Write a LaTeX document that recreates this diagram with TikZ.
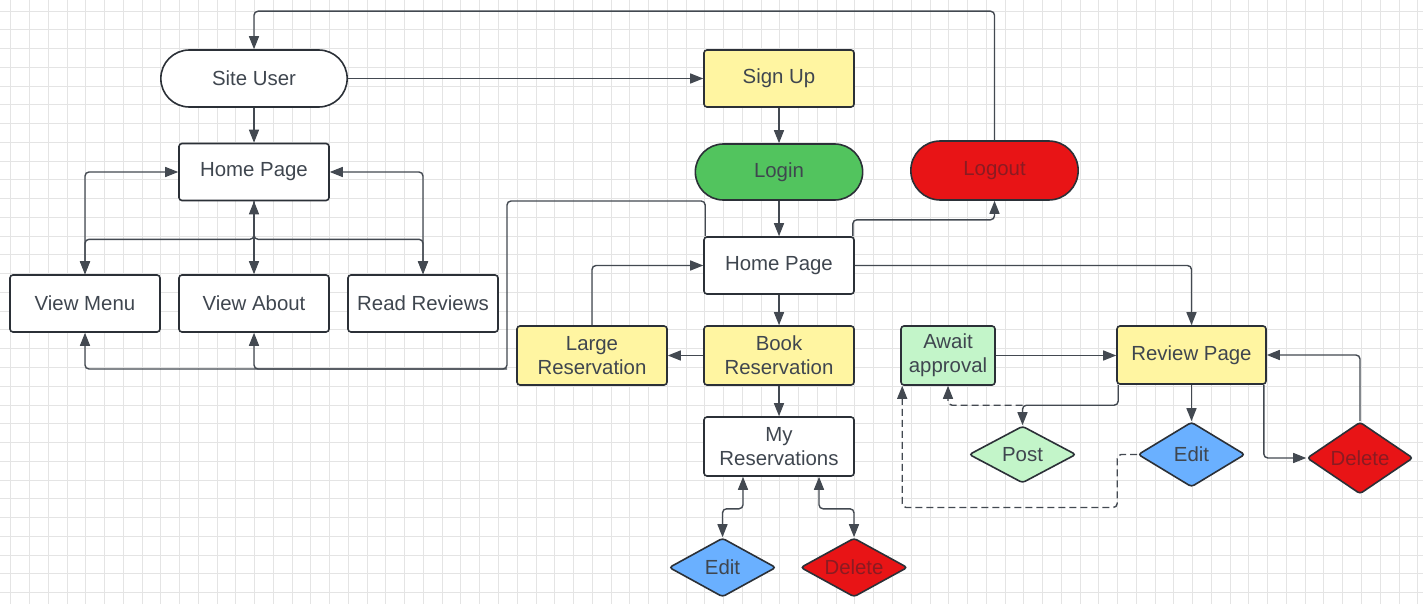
\documentclass[tikz,border=0pt]{standalone}
\usepackage{fontspec}
\setmainfont{Liberation Sans}
\usepackage{xcolor}
\usepackage{tikz}
\usetikzlibrary{shapes,arrows,positioning,calc,arrows.meta}

\definecolor{txt}{HTML}{3F464F}
\definecolor{edge}{HTML}{2B3037}
\definecolor{wire}{HTML}{434951}
\definecolor{yel}{HTML}{FFF5A1}
\definecolor{grn}{HTML}{52C45E}
\definecolor{lgrn}{HTML}{C3F5C9}
\definecolor{blu}{HTML}{6AB0FF}
\definecolor{redd}{HTML}{E81416}
\definecolor{redtxt}{HTML}{8A1B22}
\definecolor{gridc}{HTML}{E4E4E4}

\begin{document}
\begin{tikzpicture}[x=1pt, y=-1pt, >={Triangle[length=13pt,width=10pt]},
    every node/.style={font=\fontsize{20.4}{24}\selectfont, text=txt, align=center},
    box/.style={rectangle, draw=edge, line width=1.6pt, rounded corners=3pt, fill=white, minimum width=150pt, minimum height=57pt, inner sep=2pt},
    pill/.style={rounded rectangle, draw=edge, line width=1.6pt, fill=white, minimum width=193pt, minimum height=57pt},
    choice/.style={diamond, aspect=2, draw=edge, line width=1.6pt, rounded corners=3pt, inner sep=0pt, minimum width=107pt, minimum height=59pt},
    conn/.style={draw=wire, line width=1.4pt, rounded corners=4pt, ->},
    dashconn/.style={conn, dash pattern=on 7pt off 4pt},
    gridline/.style={gridc, line width=0.9pt}]

    \fill[white] (0,0) rectangle (1423,604);
    \useasboundingbox (0,0) rectangle (1423,604);
    \foreach \i in {0,...,75} {
        \draw[gridline] ({10.7+\i*18.76},0) -- ({10.7+\i*18.76},604);
    }
    \foreach \j in {0,...,31} {
        \draw[gridline] (0,{11+\j*18.76}) -- (1423,{11+\j*18.76});
    }

    \node[pill] (siteuser) at (254,78.5) {Site User};
    \node[box] (homeL) at (254,172) {Home Page};
    \node[box] (menu) at (85,303.5) {View Menu};
    \node[box] (about) at (254,303.5) {View About};
    \node[box] (reviews) at (423,303.5) {Read Reviews};

    \node[box, fill=yel] (signup) at (779,78.5) {Sign Up};
    \node[pill, fill=grn, minimum width=174pt, minimum height=56pt] (login) at (779,172) {Login};
    \node[pill, fill=redd, text=redtxt, minimum width=174pt, minimum height=59pt] (logout) at (994.5,170.5) {Logout};
    \node[box] (homeM) at (779,265.5) {Home Page};
    \node[box, fill=yel, minimum height=59pt] (large) at (592,355.5) {Large\\Reservation};
    \node[box, fill=yel, minimum height=59pt] (book) at (779,355.5) {Book\\Reservation};
    \node[box, minimum height=59pt] (myres) at (779,446.5) {My\\Reservations};
    \node[choice, fill=blu] (editA) at (722.5,567.5) {Edit};
    \node[choice, fill=redd, text=redtxt] (deleteA) at (854,567.5) {Delete};

    \node[box, fill=lgrn, minimum width=94pt, minimum height=59pt] (await) at (948,355.5) {Await\\approval};
    \node[box, fill=yel, minimum width=149pt, minimum height=58pt] (review) at (1191.5,355) {Review Page};
    \node[choice, fill=lgrn, minimum height=57pt] (post) at (1022.5,454.5) {Post};
    \node[choice, fill=blu, minimum height=65pt] (editB) at (1191.5,454.5) {Edit};
    \node[choice, fill=redd, text=redtxt, minimum width=106pt, minimum height=72pt] (deleteB) at (1360,458) {Delete};

    \coordinate (jtop) at (507,201);
    \coordinate (jct) at (507,369);

    \draw[conn] (logout.north) |- ([yshift=38pt]siteuser.north) -- (siteuser.north);
    \draw[conn] (siteuser.east) -- (signup.west);
    \draw[conn] (siteuser.south) -- (homeL.north);
    \draw[conn, <->] (homeL.west) -| (menu.north);
    \draw[conn, <->] (homeL.east) -| (reviews.north);
    \draw[conn, <->] (homeL.south) -- (about.north);
    \draw[conn] (homeL.south) -- ([yshift=-38pt]homeL.south) -| (menu.north);
    \draw[conn] (homeL.south) -- ([yshift=-38pt]homeL.south) -| (reviews.north);

    \draw[conn] (signup.south) -- (login.north);
    \draw[conn] (login.south) -- (homeM.north);
    \draw[conn] ([xshift=2pt]homeM.north west) |- (jtop) -- (jct) -| (menu.south);
    \draw[conn] (jct) -| (about.south);
    \draw[conn] ([xshift=-2pt]homeM.north east) |- ([yshift=-19pt]logout.south) -- (logout.south);
    \draw[conn] (large.north) |- (homeM.west);
    \draw[conn] (homeM.south) -- (book.north);
    \draw[conn] (book.west) -- (large.east);
    \draw[conn] (book.south) -- (myres.north);
    \draw[conn, <->] ([xshift=-36pt]myres.south) -- ([xshift=-36pt, yshift=-32pt]myres.south) -| (editA.north);
    \draw[conn, <->] ([xshift=40pt]myres.south) -- ([xshift=40pt, yshift=-32pt]myres.south) -| (deleteA.north);

    \draw[conn] (homeM.east) -| (review.north);
    \draw[conn] (await.east) -- (await.east -| review.west);
    \draw[conn] (review.south) -- (editB.north);
    \draw[conn] ([xshift=2pt]review.south west) |- ([yshift=20pt]post.north) -- (post.north);
    \draw[dashconn] ([yshift=20pt]post.north) -| (await.south);
    \draw[dashconn] (editB.west) -| ([xshift=-20pt, yshift=-53pt]editB.west) -| ([xshift=2pt]await.south west);
    \draw[conn] ([xshift=-3pt]review.south east) |- (deleteB.west);
    \draw[conn] (deleteB.north) |- (review.east);
\end{tikzpicture}
\end{document}
